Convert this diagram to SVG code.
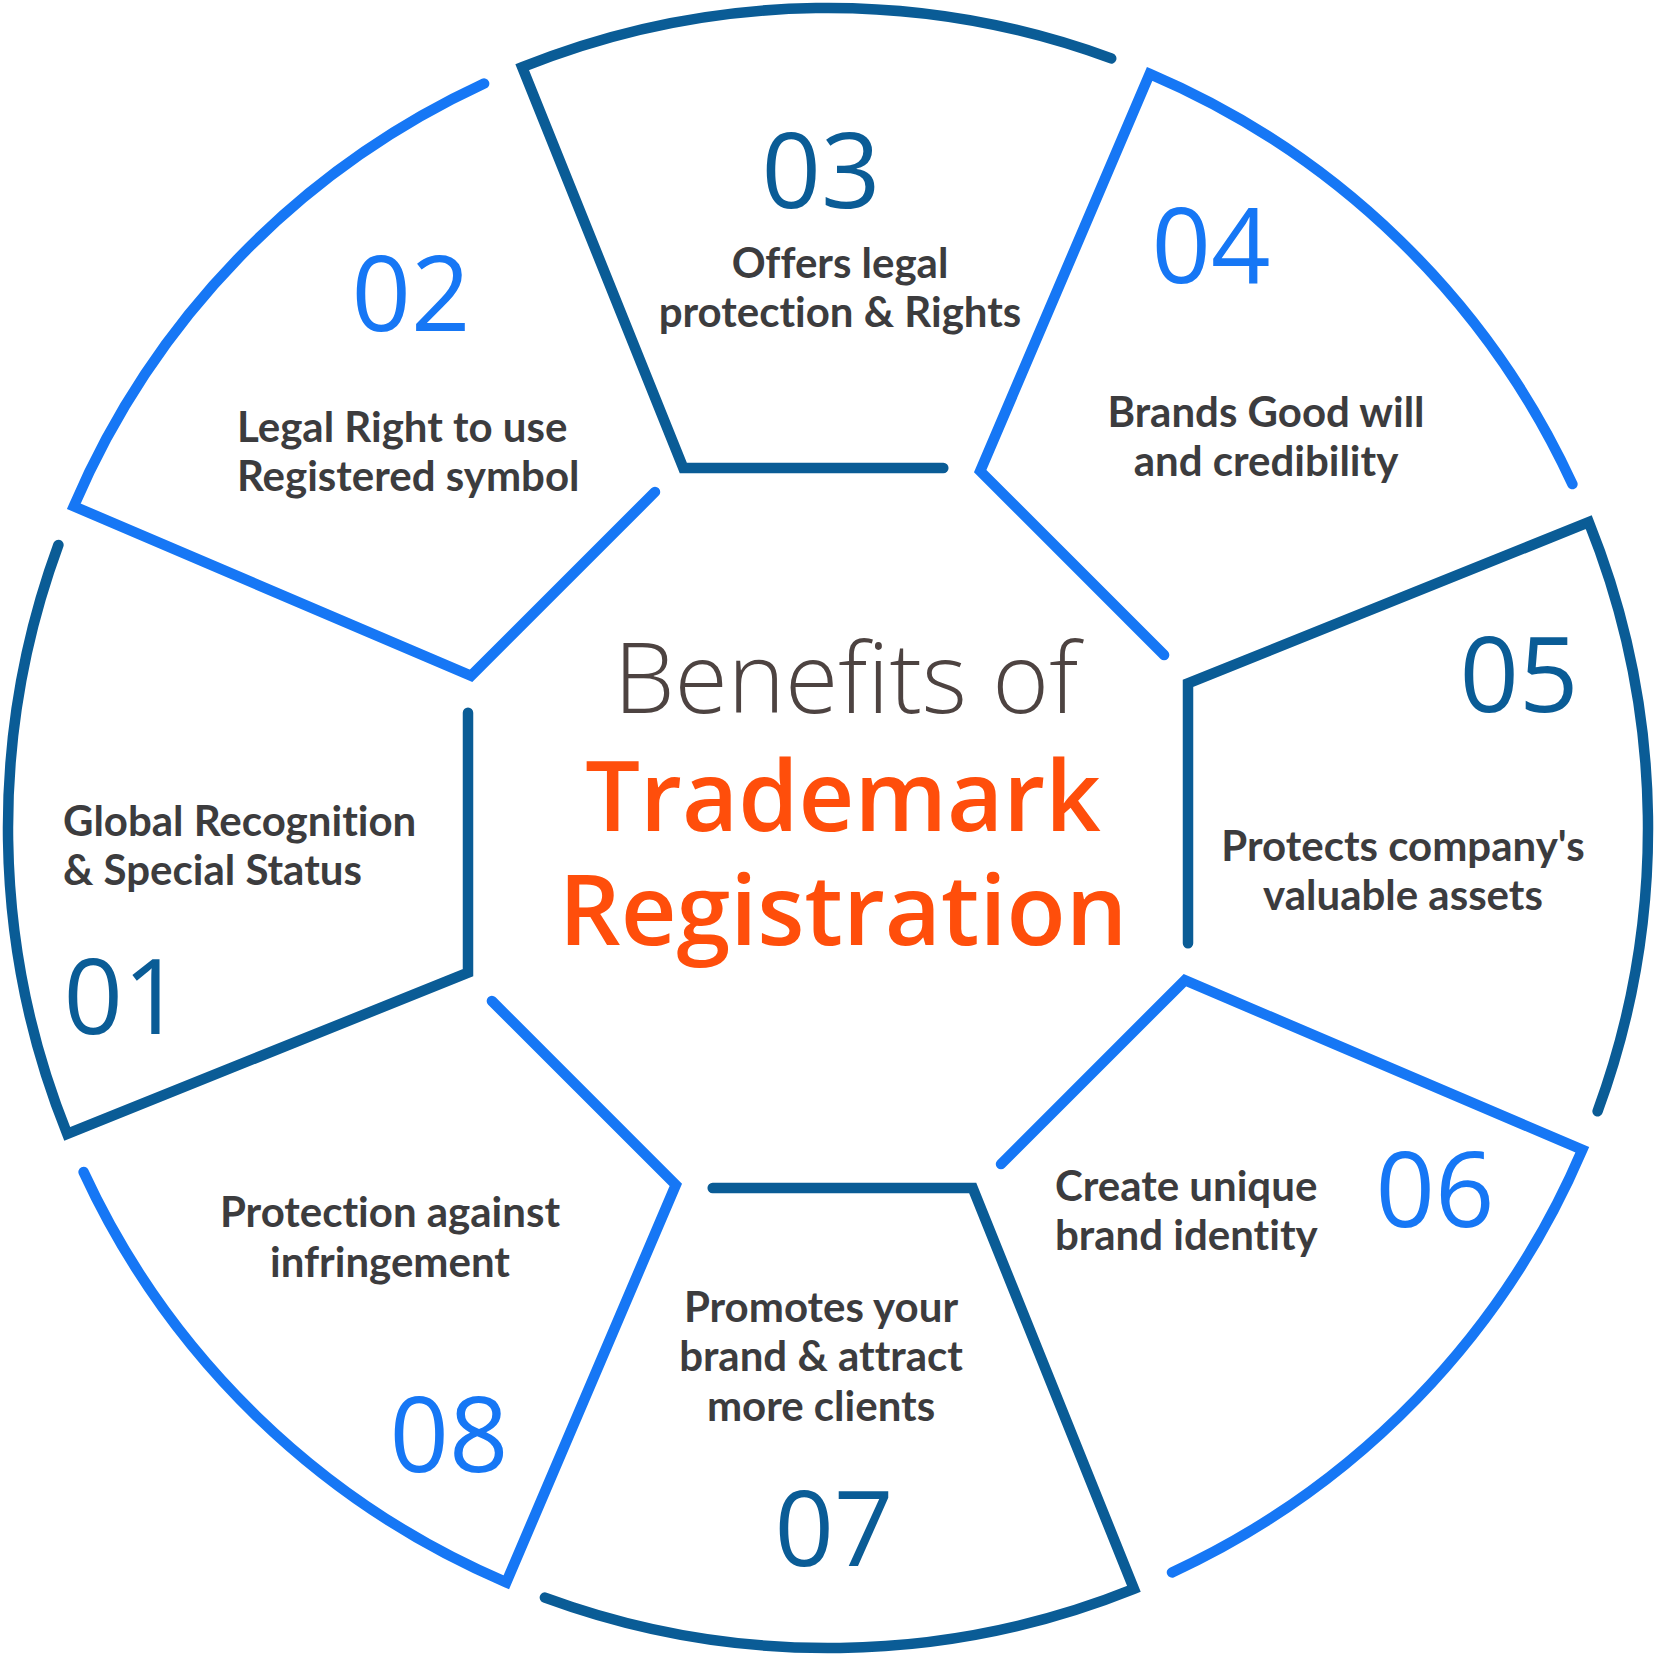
<svg xmlns="http://www.w3.org/2000/svg" width="1656" height="1656" viewBox="0 0 1656 1656">
  <style>
    .seg { fill: none; stroke-width: 10.5; stroke-linecap: round; stroke-linejoin: miter; }
    .dark { stroke: #0A5C96; }
    .light { stroke: #1677F5; }
    .num { font-family: "Open Sans", "Noto Sans", sans-serif; font-size: 104px; font-weight: 400; text-anchor: middle; }
    .numd { fill: #0A5C96; }
    .numl { fill: #1677F5; }
    .lbl { font-family: Lato, "Liberation Sans", sans-serif; font-size: 42px; font-weight: 700; fill: #3C3C3E; font-variant-ligatures: none; font-feature-settings: "liga" 0, "clig" 0; }
    .mid { text-anchor: middle; }
    .start { text-anchor: start; }
    .title { font-family: "Open Sans", "Noto Sans", sans-serif; text-anchor: middle; }
  </style>
  <rect width="1656" height="1656" fill="#FFFFFF"/>

  <g id="benefit-01">
    <path class="seg dark" d="M468 712.7 L468 972.7 L67.2 1133.9 A820 820 0 0 1 58.4 544.9"/>
    <text class="lbl start" x="63" y="836">Global Recognition</text>
    <text class="lbl start" x="63" y="885">&amp; Special Status</text>
    <text class="num numd" x="123" y="1034">01</text>
  </g>

  <g id="benefit-02">
    <path class="seg light" d="M655 491.9 L471.1 675.8 L73.8 506.3 A820 820 0 0 1 484.1 83.6"/>
    <text class="num numl" x="411" y="331">02</text>
    <text class="lbl start" x="237" y="442">Legal Right to use</text>
    <text class="lbl start" x="237" y="491">Registered symbol</text>
  </g>

  <g id="benefit-03">
    <path class="seg dark" d="M943.3 468 L683.3 468 L522.2 67.2 A820 820 0 0 1 1111.2 58.4"/>
    <text class="num numd" x="821" y="208">03</text>
    <text class="lbl mid" x="840" y="278">Offers legal</text>
    <text class="lbl mid" x="840" y="327">protection &amp; Rights</text>
  </g>

  <g id="benefit-04">
    <path class="seg light" d="M1164.1 655 L980.2 471.1 L1149.7 73.8 A820 820 0 0 1 1572.4 484.1"/>
    <text class="num numl" x="1211" y="283">04</text>
    <text class="lbl mid" x="1266" y="427">Brands Good will</text>
    <text class="lbl mid" x="1266" y="476">and credibility</text>
  </g>

  <g id="benefit-05">
    <path class="seg dark" d="M1188 943.3 L1188 683.3 L1588.8 522.2 A820 820 0 0 1 1597.6 1111.2"/>
    <text class="num numd" x="1519" y="712">05</text>
    <text class="lbl mid" x="1403" y="861">Protects company's</text>
    <text class="lbl mid" x="1403" y="910">valuable assets</text>
  </g>

  <g id="benefit-06">
    <path class="seg light" d="M1001 1164.1 L1184.9 980.2 L1582.3 1149.7 A820 820 0 0 1 1172 1572.4"/>
    <text class="lbl start" x="1055" y="1201">Create unique</text>
    <text class="lbl start" x="1055" y="1250">brand identity</text>
    <text class="num numl" x="1435" y="1227">06</text>
  </g>

  <g id="benefit-07">
    <path class="seg dark" d="M712.7 1188 L972.7 1188 L1133.9 1588.8 A820 820 0 0 1 544.9 1597.6"/>
    <text class="lbl mid" x="821" y="1322">Promotes your</text>
    <text class="lbl mid" x="821" y="1371">brand &amp; attract</text>
    <text class="lbl mid" x="821" y="1421">more clients</text>
    <text class="num numd" x="834" y="1566">07</text>
  </g>

  <g id="benefit-08">
    <path class="seg light" d="M491.9 1001 L675.8 1184.9 L506.3 1582.3 A820 820 0 0 1 83.6 1172"/>
    <text class="lbl mid" x="390" y="1227">Protection against</text>
    <text class="lbl mid" x="390" y="1277">infringement</text>
    <text class="num numl" x="449" y="1472">08</text>
  </g>

  <g id="title">
    <text class="title" x="846" y="713" font-size="97" font-weight="300" fill="#4D4341">Benefits of</text>
    <text class="title" x="843" y="831" font-size="97" font-weight="600" fill="#FF4E0B">Trademark</text>
    <text class="title" x="843" y="945" font-size="97" font-weight="600" fill="#FF4E0B">Registration</text>
  </g>
</svg>
